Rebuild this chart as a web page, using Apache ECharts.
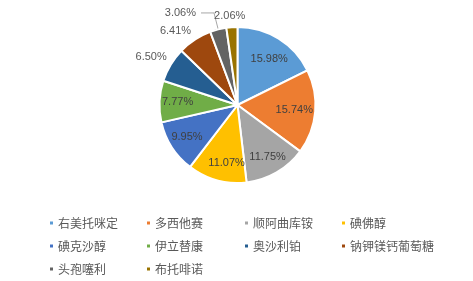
<!DOCTYPE html>
<html><head><meta charset="utf-8">
<script src="https://cdn.jsdelivr.net/npm/echarts@6/dist/echarts.min.js"></script>
<style>html,body{margin:0;padding:0;background:#fff}#c{width:473px;height:281px}</style>
</head><body><div id="c"></div>
<script>
const names = ['右美托咪定','多西他赛','顺阿曲库铵','碘佛醇','碘克沙醇','伊立替康','奥沙利铂','钠钾镁钙葡萄糖','头孢噻利','布托啡诺'];
const values = [15.98,15.74,11.75,11.07,9.95,7.77,6.50,6.41,3.06,2.06];
const colors = ['#5B9BD5','#ED7D31','#A5A5A5','#FFC000','#4472C4','#70AD47','#255E91','#9E480E','#636363','#997300'];
const innerLabelIdx = [0,1,2,3,4,5];
const leaderLabelIdx = [8];
const outerLabelIdx = [6,7,9];
const legendCols = [[0,4,8],[1,5,9],[2,6],[3,7]];
const legendX = [48,145,243,340];

const fmt = p => p.value.toFixed(2) + '%';
const center = [237.5,105];
const labelFont = {fontFamily:'Liberation Sans, Arial, sans-serif', fontSize:11};
const outerOffsets = {6:[-5,1], 7:[-10,5], 9:[-1,6]};
const innerOffsets = {0:[0,5], 1:[-3,0], 3:[5,0]};

const mainData = names.map((n,i)=>{
  const d = {name:n, value:values[i], itemStyle:{color:colors[i]}};
  if (leaderLabelIdx.includes(i)) {
    d.label = Object.assign({show:true, position:'outside', formatter:fmt, color:'#595959'}, labelFont);
    d.labelLine = {show:true, length:17, length2:13, lineStyle:{color:'#A6A6A6', width:1}};
  }
  return d;
});
const innerData = names.map((n,i)=>{
  const d = {name:n, value:values[i]};
  d.label = {show: innerLabelIdx.includes(i), position:'inside', offset: innerOffsets[i] || [0,0]};
  return d;
});
const outerData = names.map((n,i)=>({name:n, value:values[i], label:{show: outerLabelIdx.includes(i), position:'inside', offset: outerOffsets[i] || [0,0]}}));

const legends = legendCols.map((col,k)=>({
  orient:'vertical', left:legendX[k], top:216, padding:0,
  itemWidth:5, itemHeight:5, itemGap:9, icon:'rect',
  data: col.map(i=>names[i]),
  textStyle:{color:'#595959', fontSize:12, fontFamily:'Noto Sans CJK SC', lineHeight:14, padding:[0,0,0,-1]}
}));

const chart = echarts.init(document.getElementById('c'), null, {renderer:'canvas'});
chart.setOption({
  animation:false,
  color: colors,
  legend: legends,
  series:[
    {type:'pie', center:center, radius:[0,78], startAngle:90, clockwise:true,
     itemStyle:{borderColor:'#fff', borderWidth:2}, avoidLabelOverlap:false,
     label:{show:false}, labelLine:{show:false}, emphasis:{disabled:true}, silent:true,
     data: mainData},
    {type:'pie', center:center, radius:[36,78], startAngle:90, clockwise:true,
     itemStyle:{color:'rgba(0,0,0,0)', borderWidth:0},
     label:Object.assign({show:false, formatter:fmt, color:'#404040'}, labelFont),
     labelLine:{show:false}, emphasis:{disabled:true}, silent:true,
     data: innerData},
    {type:'pie', center:center, radius:[78,106], startAngle:90, clockwise:true,
     itemStyle:{color:'rgba(0,0,0,0)', borderWidth:0},
     label:Object.assign({show:false, formatter:fmt, color:'#595959'}, labelFont),
     labelLine:{show:false}, emphasis:{disabled:true}, silent:true,
     data: outerData}
  ]
});
</script></body></html>
